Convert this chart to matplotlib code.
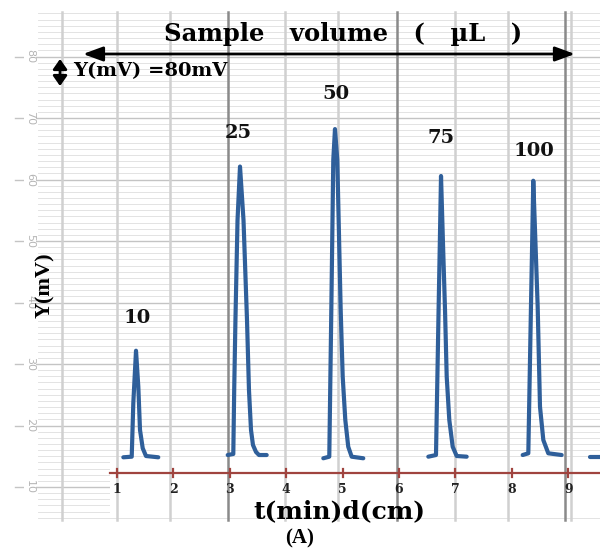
import numpy as np
import matplotlib.pyplot as plt
from matplotlib.patches import Rectangle

# chromatogram traces, one per sample volume: time (min) / signal (mV)
p10_t = [1.112, 1.261, 1.289, 1.337, 1.378, 1.408, 1.456, 1.514, 1.732]
p10_mv = [14.83, 14.93, 23.6, 32.16, 26.3, 19.27, 16.3, 15.04, 14.83]

p25_t = [2.963, 3.062, 3.078, 3.100, 3.137, 3.181, 3.243, 3.305, 3.340, 3.376, 3.411, 3.465, 3.518, 3.654]
p25_mv = [15.2, 15.37, 25.77, 37.15, 53.4, 62.11, 53.4, 37.15, 25.77, 19.27, 16.83, 15.69, 15.2, 15.2]

p50_t = [4.658, 4.764, 4.80, 4.835, 4.865, 4.906, 4.966, 5.002, 5.048, 5.10, 5.161, 5.367]
p50_mv = [14.67, 14.93, 38.8, 63.2, 68.2, 63.2, 38.8, 27.9, 20.9, 16.55, 14.93, 14.67]

p75_t = [6.52, 6.656, 6.702, 6.724, 6.745, 6.78, 6.816, 6.846, 6.892, 6.952, 7.023, 7.2]
p75_mv = [14.93, 15.2, 38.78, 49.63, 60.57, 49.63, 38.78, 27.93, 20.89, 16.55, 15.04, 14.93]

p100_t = [8.193, 8.293, 8.340, 8.361, 8.381, 8.42, 8.459, 8.5, 8.559, 8.647, 8.884]
p100_mv = [15.2, 15.48, 39.32, 49.56, 59.8, 49.56, 39.32, 23.06, 17.64, 15.48, 15.2]

tail_t = [9.39, 9.56]
tail_mv = [14.9, 14.9]

traces = [(p10_t, p10_mv), (p25_t, p25_mv), (p50_t, p50_mv),
          (p75_t, p75_mv), (p100_t, p100_mv), (tail_t, tail_mv)]

# volume labels above each peak
vol_labels = ['10', '25', '50', '75', '100']
label_t = [1.355, 3.154, 4.883, 6.754, 8.394]
label_mv = [37.5, 67.6, 73.9, 66.75, 64.6]

# chart paper
xticks = [1, 2, 3, 4, 5, 6, 7, 8, 9]
yticks = [10, 20, 30, 40, 50, 60, 70, 80]
grid_t = [0.02, 1.0, 1.94, 2.97, 3.98, 4.92, 5.96, 6.99, 7.93, 8.94, 9.05]
dark_t = [2.97, 5.96, 8.94]

fig = plt.figure(figsize=(6, 5.53), dpi=100)
ax = fig.add_axes([0, 0, 1, 1])
ax.set_xlim(-1.0745, 9.564)
ax.set_ylim(-0.732, 89.19)
ax.axis('off')

x0, x1 = -0.809, 9.564
y0, y1 = 4.63, 87.24

# horizontal rulings, fine every 1 mV, heavier every 10
for v in np.arange(5, 88, 1):
    if v % 10 == 0:
        ax.plot([x0, x1], [v, v], color='#c4c4c4', lw=1.0, zorder=1)
    else:
        ax.plot([-0.4, x1], [v, v], color='#e3e3e3', lw=0.7, zorder=1)

for v in yticks:
    ax.text(-0.543, v, str(v), rotation=-90, ha='center', va='center',
            fontsize=8, color='#b5b5b5', zorder=2,
            bbox=dict(facecolor='white', edgecolor='none', pad=0.5))

# white strip behind the time axis
ax.add_patch(Rectangle((0.876, 5.45), x1 - 0.876, 8.8, facecolor='white',
                       edgecolor='none', zorder=2))

for t in grid_t:
    if t in dark_t:
        ax.plot([t, t], [y0, y1], color='#8a8a8a', lw=1.8, zorder=3)
    else:
        ax.plot([t, t], [y0, y1], color='#d0d0d0', lw=1.8, zorder=3)

# time axis
ax.plot([0.876, x1], [12.28, 12.28], color='#a0443f', lw=1.6, zorder=4)
for t in xticks:
    ax.plot([t, t], [11.7, 12.9], color='#a0443f', lw=1.6, zorder=4)
    ax.text(t, 9.6, str(t), ha='center', va='center', fontsize=9,
            fontweight='bold', color='#222222', family='DejaVu Serif', zorder=5)

for t, mv in traces:
    ax.plot(t, mv, color='#2f5f9a', lw=3, solid_joinstyle='round',
            solid_capstyle='round', zorder=6)

for lab, t, mv in zip(vol_labels, label_t, label_mv):
    ax.text(t, mv, lab, ha='center', va='center', fontsize=14,
            fontweight='bold', family='DejaVu Serif', color='#111111', zorder=7)

# sample volume header with double arrow
ax.text(5.0, 83.6, 'Sample   volume   (   \u00b5L   )', ha='center', va='center',
        fontsize=17.5, fontweight='bold', family='DejaVu Serif', zorder=7)
ax.annotate('', xy=(9.12, 80.41), xytext=(0.397, 80.41),
            arrowprops=dict(arrowstyle='<|-|>,head_length=0.6,head_width=0.22',
                            lw=2, color='black', mutation_scale=20,
                            shrinkA=0, shrinkB=0), zorder=7)

# scale bar note
ax.annotate('', xy=(-0.01, 79.6), xytext=(-0.01, 75.2),
            arrowprops=dict(arrowstyle='<|-|>,head_length=0.5,head_width=0.35',
                            lw=2, color='black', mutation_scale=12,
                            shrinkA=0, shrinkB=0), zorder=7)
ax.text(0.22, 77.6, 'Y(mV) =80mV', ha='left', va='center', fontsize=14,
        fontweight='bold', family='DejaVu Serif', zorder=7)

ax.text(-0.27, 42.85, 'Y(mV)', rotation=90, ha='center', va='center',
        fontsize=16, fontweight='bold', family='Liberation Serif', zorder=7)
ax.text(4.94, 6.1, 't(min)d(cm)', ha='center', va='center', fontsize=18,
        fontweight='bold', family='DejaVu Serif', zorder=7)
ax.text(4.245, 1.7, '(A)', ha='center', va='center', fontsize=15,
        fontweight='bold', family='Liberation Serif', zorder=7)

fig.savefig('out.png', dpi=100)
